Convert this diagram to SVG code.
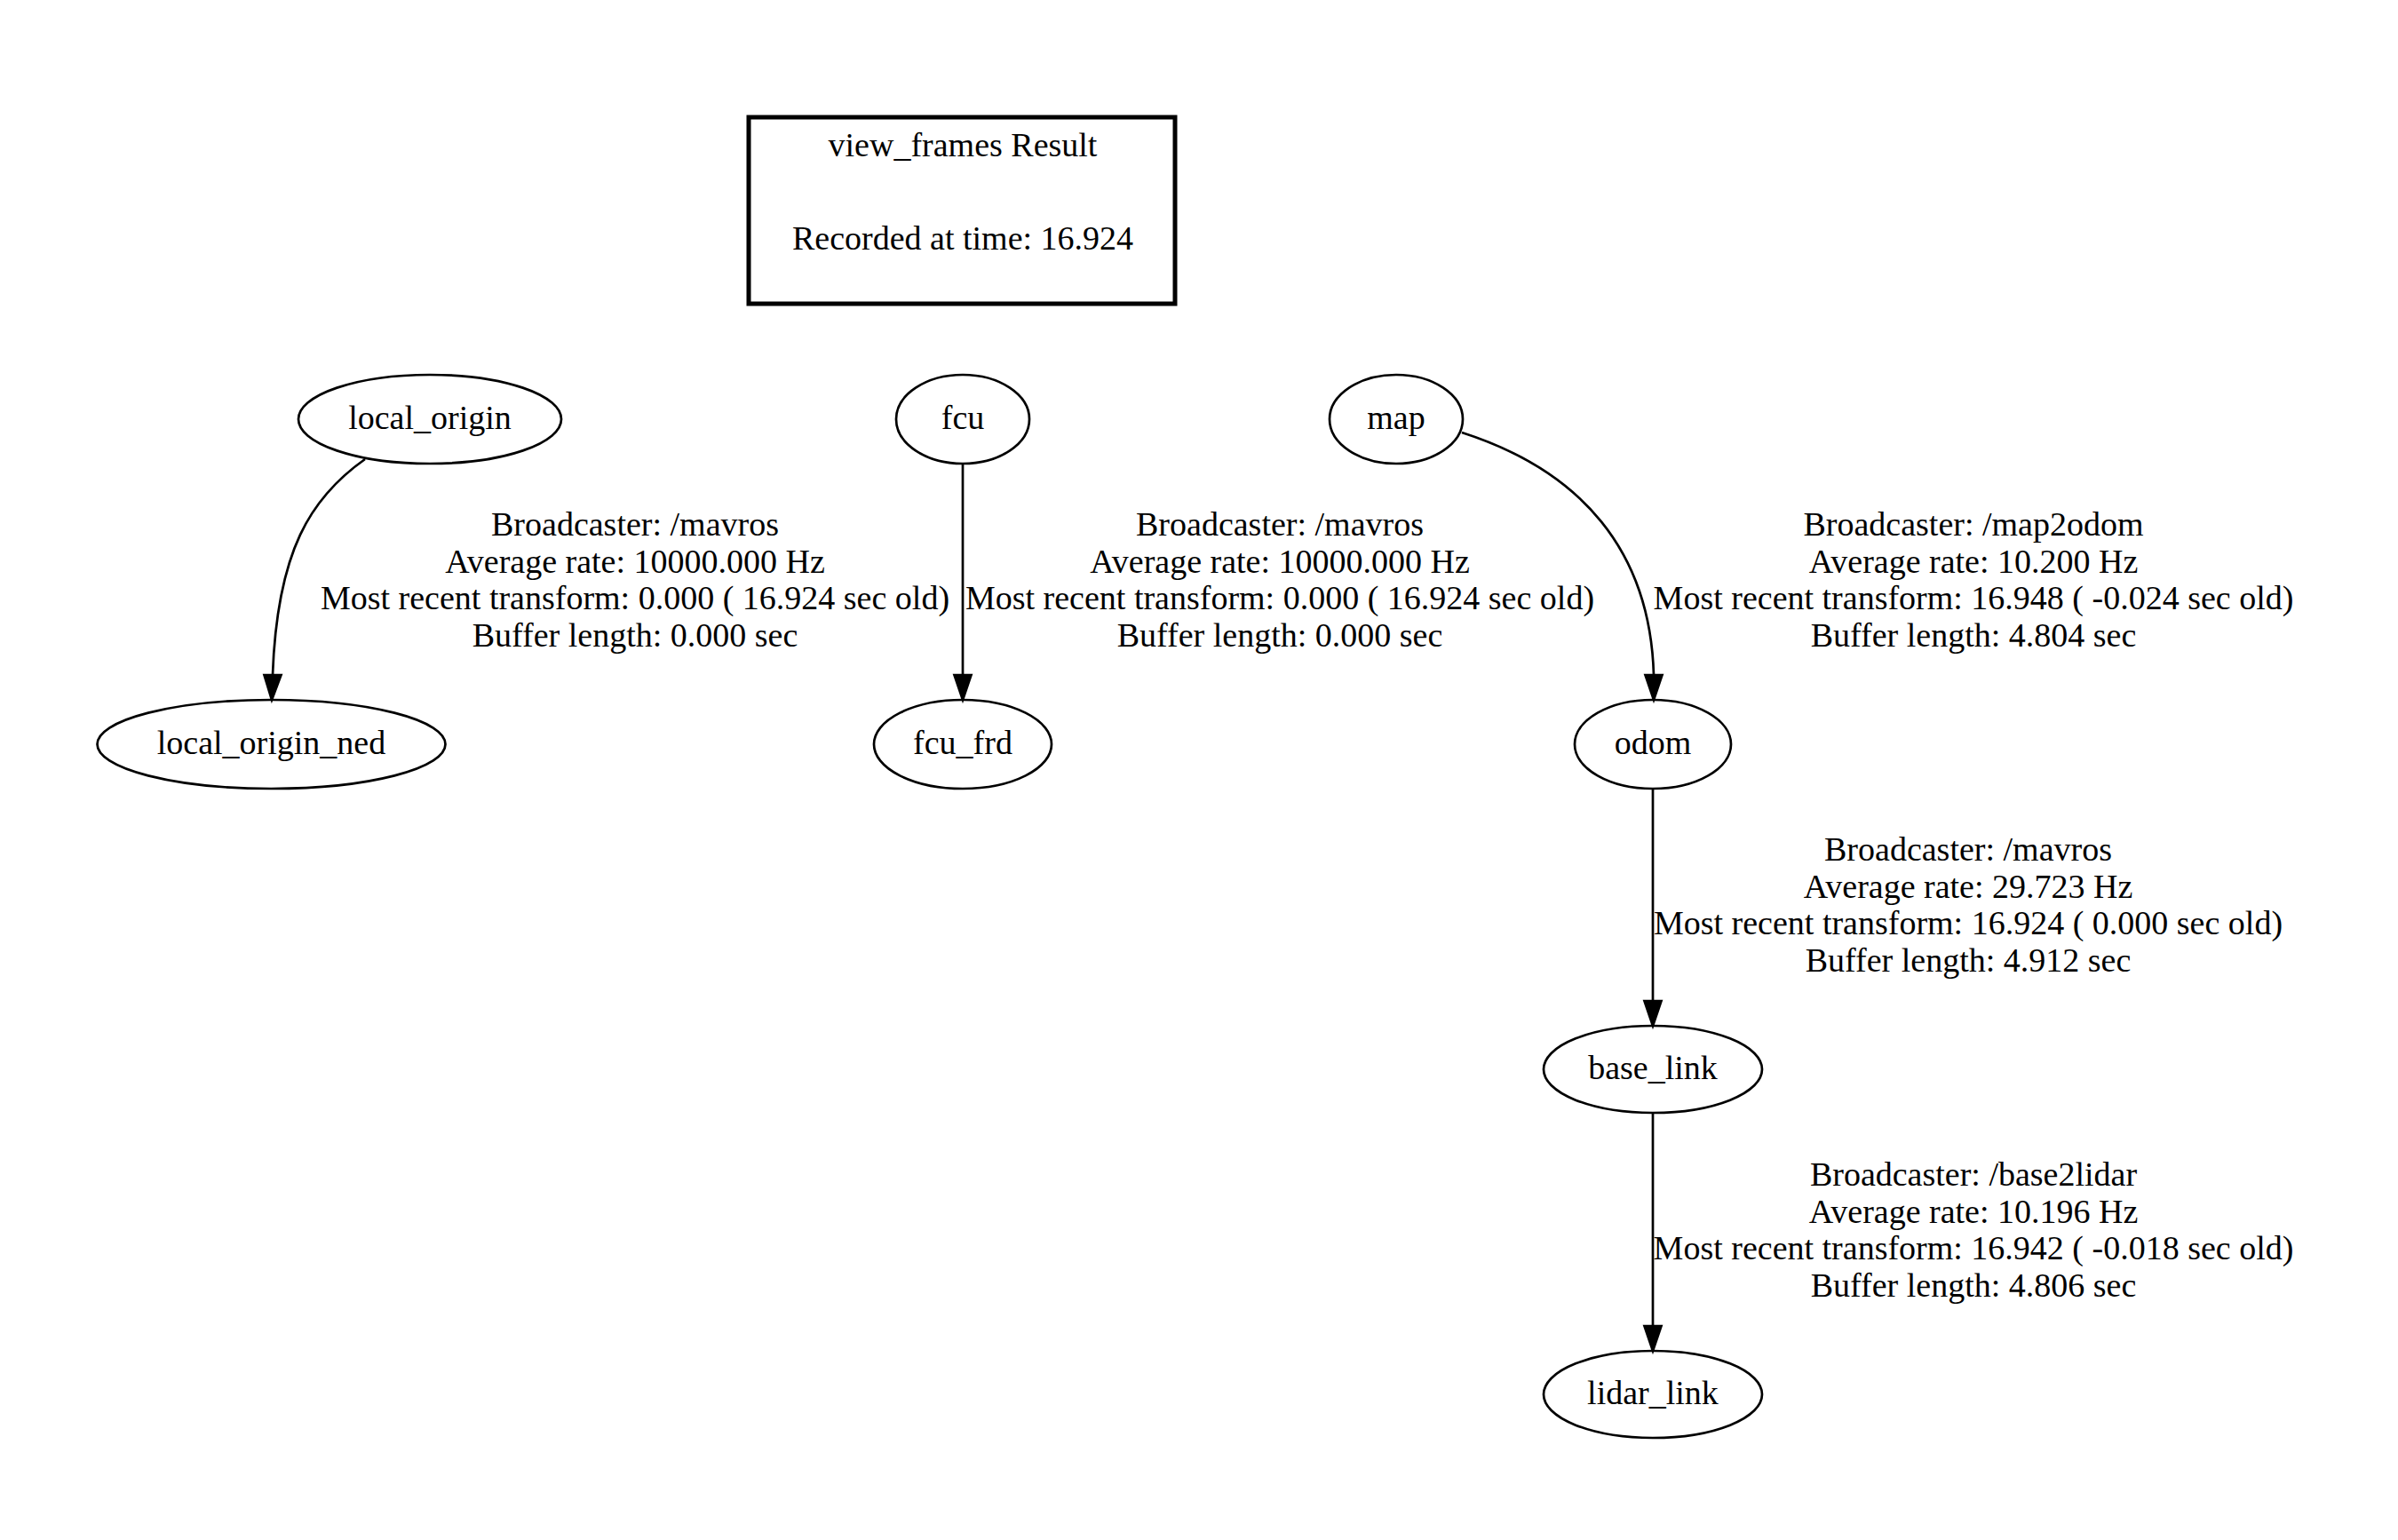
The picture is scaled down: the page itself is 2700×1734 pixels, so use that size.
<svg xmlns="http://www.w3.org/2000/svg" width="2700" height="1734" viewBox="0 0 2700 1734">
<style>
text{font-family:"Liberation Serif","Times New Roman",serif;font-size:38px;fill:#000;text-anchor:middle}
.n{fill:none;stroke:#000;stroke-width:2.7}
.e{fill:none;stroke:#000;stroke-width:2.7}
.a{fill:#000;stroke:#000;stroke-width:2.7}
</style>
<rect width="2700" height="1734" fill="#fff"/>
<g id="title">
<rect x="843" y="132" width="480" height="210" fill="none" stroke="#000" stroke-width="5"/>
<text x="1084" y="176">view_frames Result</text>
<text x="1084" y="281">Recorded at time: 16.924</text>
</g>
<g id="connectors">
<path class="e" d="M411,517 C350,560 312,620 307,760"/>
<polygon class="a" points="297.5,760 316.5,760 306,788"/>
<path class="e" d="M1084,522 L1084,760"/>
<polygon class="a" points="1074.5,760 1093.5,760 1084,788"/>
<path class="e" d="M1646,487 C1780,530 1858,620 1862,760"/>
<polygon class="a" points="1852.5,760 1871.5,760 1862,788"/>
<path class="e" d="M1861,888 L1861,1127"/>
<polygon class="a" points="1851.5,1127 1870.5,1127 1861,1155"/>
<path class="e" d="M1861,1253 L1861,1493"/>
<polygon class="a" points="1851.5,1493 1870.5,1493 1861,1521"/>
</g>
<g id="labels">
<text x="715" y="603">Broadcaster: /mavros</text>
<text x="715" y="644.5">Average rate: 10000.000 Hz</text>
<text x="715" y="686">Most recent transform: 0.000 ( 16.924 sec old)</text>
<text x="715" y="727.5">Buffer length: 0.000 sec</text>
<text x="1441" y="603">Broadcaster: /mavros</text>
<text x="1441" y="644.5">Average rate: 10000.000 Hz</text>
<text x="1441" y="686">Most recent transform: 0.000 ( 16.924 sec old)</text>
<text x="1441" y="727.5">Buffer length: 0.000 sec</text>
<text x="2222" y="603">Broadcaster: /map2odom</text>
<text x="2222" y="644.5">Average rate: 10.200 Hz</text>
<text x="2222" y="686">Most recent transform: 16.948 ( -0.024 sec old)</text>
<text x="2222" y="727.5">Buffer length: 4.804 sec</text>
<text x="2216" y="969">Broadcaster: /mavros</text>
<text x="2216" y="1010.5">Average rate: 29.723 Hz</text>
<text x="2216" y="1052">Most recent transform: 16.924 ( 0.000 sec old)</text>
<text x="2216" y="1093.5">Buffer length: 4.912 sec</text>
<text x="2222" y="1335">Broadcaster: /base2lidar</text>
<text x="2222" y="1376.5">Average rate: 10.196 Hz</text>
<text x="2222" y="1418">Most recent transform: 16.942 ( -0.018 sec old)</text>
<text x="2222" y="1459.5">Buffer length: 4.806 sec</text>
</g>
<g id="local_origin"><ellipse class="n" cx="484" cy="472" rx="148" ry="50"/><text x="484" y="483">local_origin</text></g>
<g id="local_origin_ned"><ellipse class="n" cx="305.5" cy="838" rx="196" ry="50"/><text x="305.5" y="849">local_origin_ned</text></g>
<g id="fcu"><ellipse class="n" cx="1084" cy="472" rx="75" ry="50"/><text x="1084" y="483">fcu</text></g>
<g id="fcu_frd"><ellipse class="n" cx="1084" cy="838" rx="100" ry="50"/><text x="1084" y="849">fcu_frd</text></g>
<g id="map"><ellipse class="n" cx="1572" cy="472" rx="75" ry="50"/><text x="1572" y="483">map</text></g>
<g id="odom"><ellipse class="n" cx="1861" cy="838" rx="88" ry="50"/><text x="1861" y="849">odom</text></g>
<g id="base_link"><ellipse class="n" cx="1861" cy="1204" rx="123" ry="49"/><text x="1861" y="1215">base_link</text></g>
<g id="lidar_link"><ellipse class="n" cx="1861" cy="1570" rx="123" ry="49"/><text x="1861" y="1581">lidar_link</text></g>
</svg>
